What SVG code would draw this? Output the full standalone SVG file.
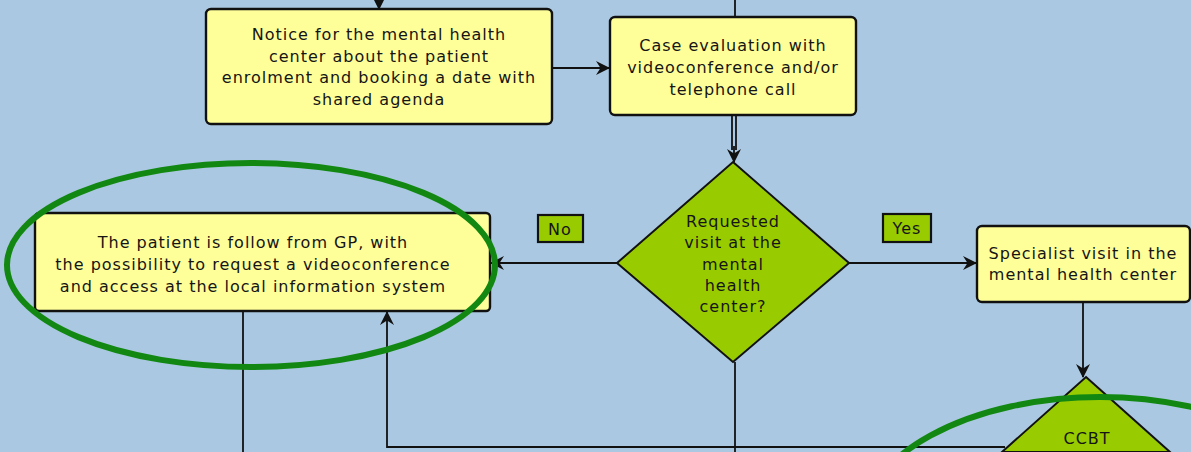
<svg xmlns="http://www.w3.org/2000/svg" width="1191" height="452" viewBox="0 0 1191 452">
<defs>
<style>
.box{fill:#ffff99;stroke:#111;stroke-width:2.4}
.dia{fill:#99cc00;stroke:#111;stroke-width:2}
.lbl{fill:#99cc00;stroke:#111;stroke-width:2.2}
.t{font-family:"DejaVu Sans",sans-serif;font-size:16px;letter-spacing:1px;fill:#151515;text-anchor:middle}
.c{fill:none;stroke:#111;stroke-width:1.8}
.ring{fill:none;stroke:#128812;stroke-width:6}
</style>
<marker id="ah" markerWidth="14" markerHeight="14" viewBox="0 0 14 14" refX="13" refY="7" orient="auto" markerUnits="userSpaceOnUse">
<path d="M0,0 L14,7 L0,14 L4.5,7 Z" fill="#111"/>
</marker>
</defs>
<rect width="1191" height="452" fill="#abc8e2"/>
<g id="connectors">
<line class="c" x1="379" y1="0" x2="379" y2="9" marker-end="url(#ah)"/>
<line class="c" x1="735" y1="0" x2="735" y2="17"/>
<line class="c" x1="552" y1="68" x2="609" y2="68" marker-end="url(#ah)" stroke-width="2.4"/>
<line class="c" x1="732" y1="115" x2="732" y2="150"/>
<line class="c" x1="736" y1="115" x2="736" y2="150"/>
<line class="c" x1="734" y1="146" x2="734" y2="162" marker-end="url(#ah)"/>
<line class="c" x1="617" y1="263" x2="491" y2="263" marker-end="url(#ah)" stroke-width="2.4"/>
<line class="c" x1="849" y1="263" x2="976" y2="263" marker-end="url(#ah)" stroke-width="2.4"/>
<line class="c" x1="1083" y1="302" x2="1083" y2="377" marker-end="url(#ah)"/>
<line class="c" x1="243" y1="311" x2="243" y2="452" stroke-width="2"/>
<line class="c" x1="735" y1="362" x2="735" y2="452"/>
<polyline class="c" points="1005,447 387,447 387,312" marker-end="url(#ah)" stroke-width="2"/>
</g>
<g id="notice">
<rect class="box" x="206" y="9" width="346" height="115" rx="5"/>
<text class="t" x="379" y="40">Notice for the mental health</text>
<text class="t" x="379" y="62">center about the patient</text>
<text class="t" x="379" y="83">enrolment and booking a date with</text>
<text class="t" x="379" y="105">shared agenda</text>
</g>
<g id="case">
<rect class="box" x="610" y="17" width="246" height="98" rx="5"/>
<text class="t" x="733" y="51">Case evaluation with</text>
<text class="t" x="733" y="73">videoconference and/or</text>
<text class="t" x="733" y="95">telephone call</text>
</g>
<g id="decision">
<polygon class="dia" points="733,162 849,263 733,362 617,263"/>
<text class="t" x="733" y="227">Requested</text>
<text class="t" x="733" y="248">visit at the</text>
<text class="t" x="733" y="270">mental</text>
<text class="t" x="733" y="291">health</text>
<text class="t" x="733" y="312">center?</text>
</g>
<g id="no-label">
<rect class="lbl" x="538" y="215" width="45" height="27"/>
<text class="t" x="560" y="235">No</text>
</g>
<g id="yes-label">
<rect class="lbl" x="883" y="214" width="48" height="28"/>
<text class="t" x="907" y="234">Yes</text>
</g>
<g id="patient">
<rect class="box" x="35" y="213" width="455" height="98" rx="4"/>
<text class="t" x="253" y="248">The patient is follow from GP, with</text>
<text class="t" x="253" y="270">the possibility to request a videoconference</text>
<text class="t" x="253" y="292">and access at the local information system</text>
</g>
<g id="specialist">
<rect class="box" x="977" y="226" width="213" height="76" rx="5"/>
<text class="t" x="1083" y="259">Specialist visit in the</text>
<text class="t" x="1083" y="280">mental health center</text>
</g>
<g id="ccbt">
<polygon class="dia" points="1086,377 1170,452 1002,452"/>
<text class="t" x="1087" y="444">CCBT</text>
</g>
<g id="highlights">
<ellipse class="ring" cx="251" cy="265" rx="244" ry="102"/>
<ellipse class="ring" cx="1100" cy="529" rx="240" ry="132"/>
</g>
</svg>
